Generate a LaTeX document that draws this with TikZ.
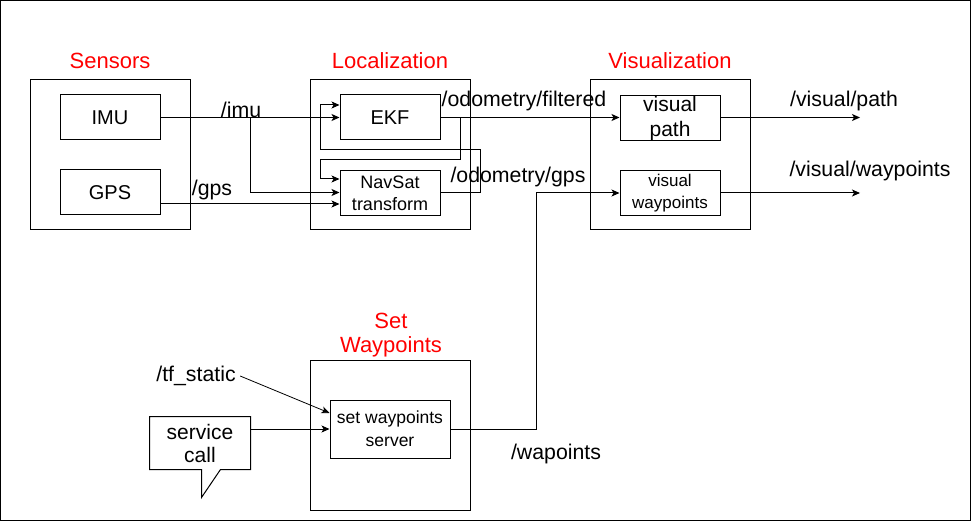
\documentclass[tikz,border=0pt]{standalone}
\usepackage{fontspec}
\setmainfont{Liberation Sans}
\usetikzlibrary{arrows.meta}

\tikzset{
  group/.style={draw, minimum width=160pt, minimum height=150pt, inner sep=0pt},
  block/.style={draw, minimum width=100pt, minimum height=45pt, inner sep=0pt, align=center, font=\fontsize{21}{25}\selectfont},
  smallblock/.style={block, font=\fontsize{17}{22}\selectfont},
  title/.style={text=red, align=center, font=\fontsize{22}{24}\selectfont},
  topic/.style={inner sep=0pt, font=\fontsize{21.3}{24}\selectfont},
  flow/.style={-{Stealth[length=8pt, width=7pt, inset=2pt]}}
}

\begin{document}
\begin{tikzpicture}[x=1pt, y=-1pt, line width=1pt]
\useasboundingbox (0, 0) rectangle (971, 521);
\draw (0.5, 0.5) rectangle (970.5, 520.5);

% groups
\node (sensors) at (110, 155) [group] {};
\node (localization) at (390, 155) [group] {};
\node (visualization) at (670, 155) [group] {};
\node (setwp) at (390, 435) [group] {};

\node (sensorsT) at (110, 61) [title] {Sensors};
\node (localizationT) at (390, 61) [title] {Localization};
\node (visualizationT) at (670, 61) [title] {Visualization};
\node (setwpT) at (391, 335) [title] {Set\\Waypoints};

% blocks
\node (imu) at (110, 117.5) [block, font=\fontsize{20}{24}\selectfont] {IMU};
\node (gps) at (110, 192.5) [block, font=\fontsize{20}{24}\selectfont] {GPS};
\node (ekf) at (390, 117.5) [block, font=\fontsize{20}{24}\selectfont] {EKF};
\node (navsat) at (390, 193) [block, font=\fontsize{18}{22}\selectfont] {NavSat\\transform};
\node (vpath) at (670, 118.5) [block] {visual\\path};
\node (vwp) at (670, 193) [smallblock] {visual\\waypoints};
\node (server) at (390, 429) [smallblock, minimum width=120pt, minimum height=58pt, font=\fontsize{17.5}{23}\selectfont] {set waypoints\\server};
\node (svc) at (200, 443) [minimum width=100pt, minimum height=52pt, inner sep=0pt, align=center, font=\fontsize{21}{23}\selectfont] {service\\call};
\draw (svc.south west) -- (svc.north west) -- (svc.north east) -- (svc.south east) -- ++(-30, 0) -- ++(-19, 28) -- ++(0, -28) -- cycle;

% topics
\node (imuT) at (241, 110) [topic] {/imu};
\node (gpsT) at (212, 190) [topic] {/gps};
\node (filteredT) at (524, 101) [topic] {/odometry/filtered};
\node (odomgpsT) at (518, 177) [topic] {/odometry/gps};
\node (pathT) at (844, 101) [topic] {/visual/path};
\node (wpT) at (870, 171) [topic] {/visual/waypoints};
\node (wapointsT) at (556, 454) [topic] {/wapoints};
\node (tfstatic) at (196, 376) [topic] {/tf\_static};

\coordinate (imusplit) at (250, 117.5);
\coordinate (ekftap) at (460, 117.5);
\coordinate (pathend) at (860, 117.5);
\coordinate (wpend) at (860, 193);

% connectors
\draw[flow] (imu.east) -- (ekf.west);
\draw[flow] (imusplit) |- ([yshift=0.5pt]navsat.west);
\draw[flow] ([yshift=-11.5pt]gps.east) -- ([yshift=-11pt]navsat.west);
\draw[flow] (ekf.east) -- (vpath.west |- ekf.east);
\draw[flow] (ekftap) -- (460, 160) -- (320, 160) |- ([yshift=14pt]navsat.west);
\draw[flow] (navsat.east) -- (480, 193) -- (480, 150) -- (320, 150) |- ([yshift=12.5pt]ekf.west);
\draw[flow] (vpath.east |- ekf.east) -- (pathend);
\draw[flow] (vwp.east) -- (wpend);
\draw[flow] (server.east) -- ++(86, 0) |- (vwp.west);
\draw[flow, line width=0.8pt] ([xshift=4pt]tfstatic.east) -- ([yshift=16pt]server.west);
\draw[flow] (svc.east |- server.west) -- (server.west);
\end{tikzpicture}
\end{document}
